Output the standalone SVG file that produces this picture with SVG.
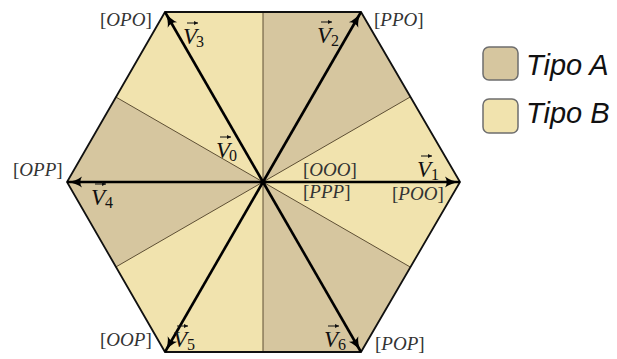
<svg xmlns="http://www.w3.org/2000/svg" width="617" height="359" viewBox="0 0 617 359">
<style>
.typeA{fill:#d6c69f}
.typeB{fill:#f1e3ae}
.thin{stroke:#5e4f34;stroke-width:1;fill:none}
.vec{stroke:#000;stroke-width:2.6;fill:none;marker-end:url(#ah)}
.hex{stroke:#111;stroke-width:1.8;fill:none;stroke-linejoin:miter}
.lbl{font-family:"Liberation Serif",serif;font-size:19px;fill:#333}
.lbl tspan.i{font-style:italic}
.v{font-family:"Liberation Serif",serif;font-style:italic;font-size:23px;fill:#111}
.sub{font-family:"Liberation Serif",serif;font-size:16px;fill:#111}
.ov{stroke:#111;stroke-width:1;fill:none}
.leg{stroke:#6e6e6e;stroke-width:1.5}
.legt{font-family:"Liberation Sans",sans-serif;font-style:italic;font-size:29px;fill:#111}
</style>
<defs>
<marker id="ah" markerUnits="userSpaceOnUse" markerWidth="18" markerHeight="13" refX="15" refY="5.5" orient="auto" viewBox="0 0 18 11">
<path d="M0,0 Q6,4.5 15,5.5 Q6,6.5 0,11 Q3.5,5.5 0,0 z" fill="#000"/>
</marker>
<marker id="sa" markerUnits="userSpaceOnUse" markerWidth="5" markerHeight="5" refX="4" refY="2" orient="auto" viewBox="0 0 5 4">
<path d="M0,0 L4,2 L0,4 z" fill="#111"/>
</marker>
</defs>
<g id="hexagon">
<polygon class="typeB" points="460,182 361,12 165,12 67,182 165,352 361,352"/>
<polygon class="typeA" points="263,182 410.2,97 361,12 263,12"/>
<polygon class="typeA" points="263,182 115.8,97 67,182 115.8,267"/>
<polygon class="typeA" points="263,182 263,352 361,352 410.2,267"/>
<path class="thin" d="M263,182 L410.2,97 M263,182 L263,12 M263,182 L115.8,97 M263,182 L115.8,267 M263,182 L263,352 M263,182 L410.2,267"/>
<polygon class="hex" points="460,182 361,12 165,12 67,182 165,352 361,352"/>
</g>
<g id="connectors">
<line class="vec" x1="263" y1="182" x2="460" y2="182"/>
<line class="vec" x1="263" y1="182" x2="361" y2="12"/>
<line class="vec" x1="263" y1="182" x2="165" y2="12"/>
<line class="vec" x1="263" y1="182" x2="67" y2="182"/>
<line class="vec" x1="263" y1="182" x2="165" y2="352"/>
<line class="vec" x1="263" y1="182" x2="361" y2="352"/>
<circle cx="263" cy="182" r="2.5" fill="#000"/>
</g>
<g id="states">
<text class="lbl" x="100" y="26">[<tspan class="i">OPO</tspan>]</text>
<text class="lbl" x="374" y="26">[<tspan class="i">PPO</tspan>]</text>
<text class="lbl" x="13" y="176">[<tspan class="i">OPP</tspan>]</text>
<text class="lbl" x="303" y="176">[<tspan class="i">OOO</tspan>]</text>
<text class="lbl" x="303" y="198">[<tspan class="i">PPP</tspan>]</text>
<text class="lbl" x="392" y="200">[<tspan class="i">POO</tspan>]</text>
<text class="lbl" x="100" y="346">[<tspan class="i">OOP</tspan>]</text>
<text class="lbl" x="375" y="350">[<tspan class="i">POP</tspan>]</text>
</g>
<g id="vector-labels">
<g id="v0"><text class="v" x="216" y="158">V</text><text class="sub" x="229" y="161">0</text><line class="ov" x1="220" y1="137" x2="231" y2="137" marker-end="url(#sa)"/></g>
<g id="v1"><text class="v" x="417" y="177">V</text><text class="sub" x="431" y="180">1</text><line class="ov" x1="421" y1="156" x2="432" y2="156" marker-end="url(#sa)"/></g>
<g id="v2"><text class="v" x="317" y="43">V</text><text class="sub" x="331" y="46">2</text><line class="ov" x1="321" y1="22" x2="332" y2="22" marker-end="url(#sa)"/></g>
<g id="v3"><text class="v" x="183" y="44">V</text><text class="sub" x="196" y="47">3</text><line class="ov" x1="187" y1="23" x2="198" y2="23" marker-end="url(#sa)"/></g>
<g id="v4"><text class="v" x="91" y="205">V</text><text class="sub" x="105" y="208">4</text><line class="ov" x1="95" y1="184" x2="106" y2="184" marker-end="url(#sa)"/></g>
<g id="v5"><text class="v" x="173" y="347">V</text><text class="sub" x="187" y="350">5</text><line class="ov" x1="177" y1="326" x2="188" y2="326" marker-end="url(#sa)"/></g>
<g id="v6"><text class="v" x="324" y="347">V</text><text class="sub" x="338" y="350">6</text><line class="ov" x1="328" y1="326" x2="339" y2="326" marker-end="url(#sa)"/></g>
</g>
<g id="legend-a">
<rect class="typeA leg" x="483" y="47" width="35" height="33" rx="6"/>
<text class="legt" x="526" y="75">Tipo A</text>
</g>
<g id="legend-b">
<rect class="typeB leg" x="483" y="99" width="35" height="34" rx="6"/>
<text class="legt" x="526" y="123">Tipo B</text>
</g>
</svg>
